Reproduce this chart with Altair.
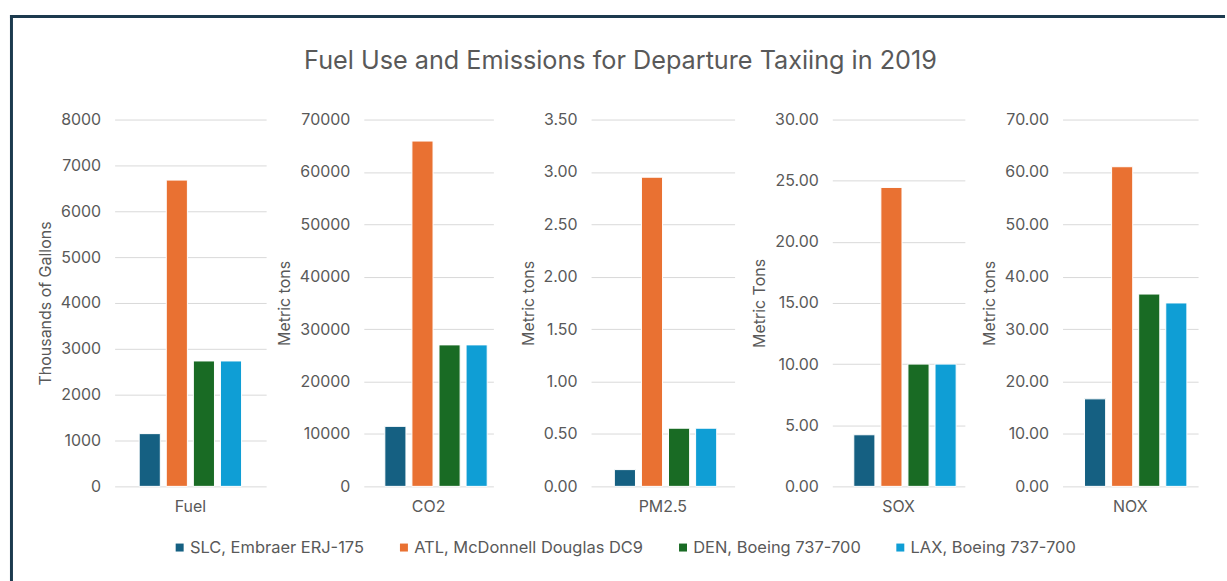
import altair as alt
import pandas as pd

# Aircraft / airport series, in legend order
series = [
    "SLC, Embraer ERJ-175",
    "ATL, McDonnell Douglas DC9",
    "DEN, Boeing 737-700",
    "LAX, Boeing 737-700",
]
series_colors = ["#156082", "#E97132", "#196B24", "#0F9ED5"]

# Panels
metrics = ["Fuel", "CO2", "PM2.5", "SOX", "NOX"]

# Values per series for each metric
fuel = [1150, 6680, 2735, 2735]          # thousands of gallons
co2 = [11450, 65900, 27000, 27000]       # metric tons
pm25 = [0.16, 2.95, 0.555, 0.555]        # metric tons
sox = [4.22, 24.45, 10.0, 10.0]          # metric tons
nox = [16.7, 61.0, 36.7, 35.0]           # metric tons
values = [fuel, co2, pm25, sox, nox]

# Axis settings per panel
y_titles = ["Thousands of Gallons", "Metric tons", "Metric tons", "Metric Tons", "Metric tons"]
y_max = [8000, 70000, 3.5, 30, 70]
y_step = [1000, 10000, 0.5, 5, 10]
y_format = ["d", "d", ".2f", ".2f", ".2f"]
panel_widths = [152, 130, 144, 133, 136]
PANEL_H = 368

FONT = "Inter"
GREY = "#595959"
GRID = "#d9d9d9"
FRAME = "#1c3a4e"

rows = []
for m, vals in zip(metrics, values):
    for s, v in zip(series, vals):
        rows.append({"metric": m, "series": s, "value": v})
df = pd.DataFrame(rows)


def panel(i):
    n_ticks = int(round(y_max[i] / y_step[i]))
    ticks = [round(k * y_step[i], 4) for k in range(n_ticks + 1)]
    bars = (
        alt.Chart(df)
        .transform_filter(alt.datum.metric == metrics[i])
        .mark_bar(stroke="white", strokeWidth=1)
        .encode(
            x=alt.X(
                "metric:N",
                title=None,
                scale=alt.Scale(paddingOuter=0.24, paddingInner=0),
                axis=alt.Axis(labelAngle=0, ticks=False, domain=False, grid=False,
                              labelPadding=12, labelFontSize=16,
                              labelColor=GREY, labelFont=FONT),
            ),
            xOffset=alt.XOffset(
                "series:N", sort=series,
                scale=alt.Scale(paddingInner=0.22, paddingOuter=0),
            ),
            y=alt.Y(
                "value:Q",
                title=y_titles[i],
                scale=alt.Scale(domain=[0, y_max[i]], nice=False),
                axis=alt.Axis(values=ticks, format=y_format[i], ticks=False,
                              domain=False, grid=True, gridColor=GRID,
                              gridWidth=1, labelPadding=14, labelFontSize=16,
                              labelColor=GREY, labelFont=FONT,
                              titleFont=FONT, titleFontSize=16,
                              titleFontWeight="normal", titleColor=GREY,
                              titlePadding=7),
            ),
            color=alt.Color(
                "series:N", sort=series,
                scale=alt.Scale(domain=series, range=series_colors),
                legend=alt.Legend(
                    title=None, orient="none", direction="horizontal",
                    columns=4, legendX=57, legendY=421,
                    symbolType="square", symbolSize=64, symbolStrokeWidth=0,
                    labelFont=FONT, labelFontSize=16.5, labelColor=GREY,
                    labelOffset=2, columnPadding=31, labelLimit=400,
                ),
            ),
        )
    )
    layers = [bars]
    if i == 0:
        one = pd.DataFrame({"k": [0]})
        frame_top = alt.Chart(one).mark_rule(color=FRAME, strokeWidth=3).encode(
            x=alt.value(-105), x2=alt.value(1114), y=alt.value(-103.5)
        )
        frame_left = alt.Chart(one).mark_rule(color=FRAME, strokeWidth=3).encode(
            x=alt.value(-103.5), y=alt.value(-105), y2=alt.value(464)
        )
        heading = alt.Chart(one).mark_text(
            text="Fuel Use and Emissions for Departure Taxiing in 2019",
            font=FONT, fontSize=25.3, color=GREY, align="center", baseline="middle",
        ).encode(x=alt.value(507.5), y=alt.value(-59))
        layers += [frame_top, frame_left, heading]
    return alt.layer(*layers).properties(width=panel_widths[i], height=PANEL_H)


chart = (
    alt.hconcat(*[panel(i) for i in range(len(metrics))], spacing=98, bounds="flush")
    .resolve_scale(y="independent")
    .properties(
        background="white",
        padding={"left": 8, "top": 12, "right": 0, "bottom": 0},
    )
    .configure_view(strokeWidth=0, stroke="transparent")
)

chart.save("out.html", embed_options={"renderer": "svg", "actions": False})
